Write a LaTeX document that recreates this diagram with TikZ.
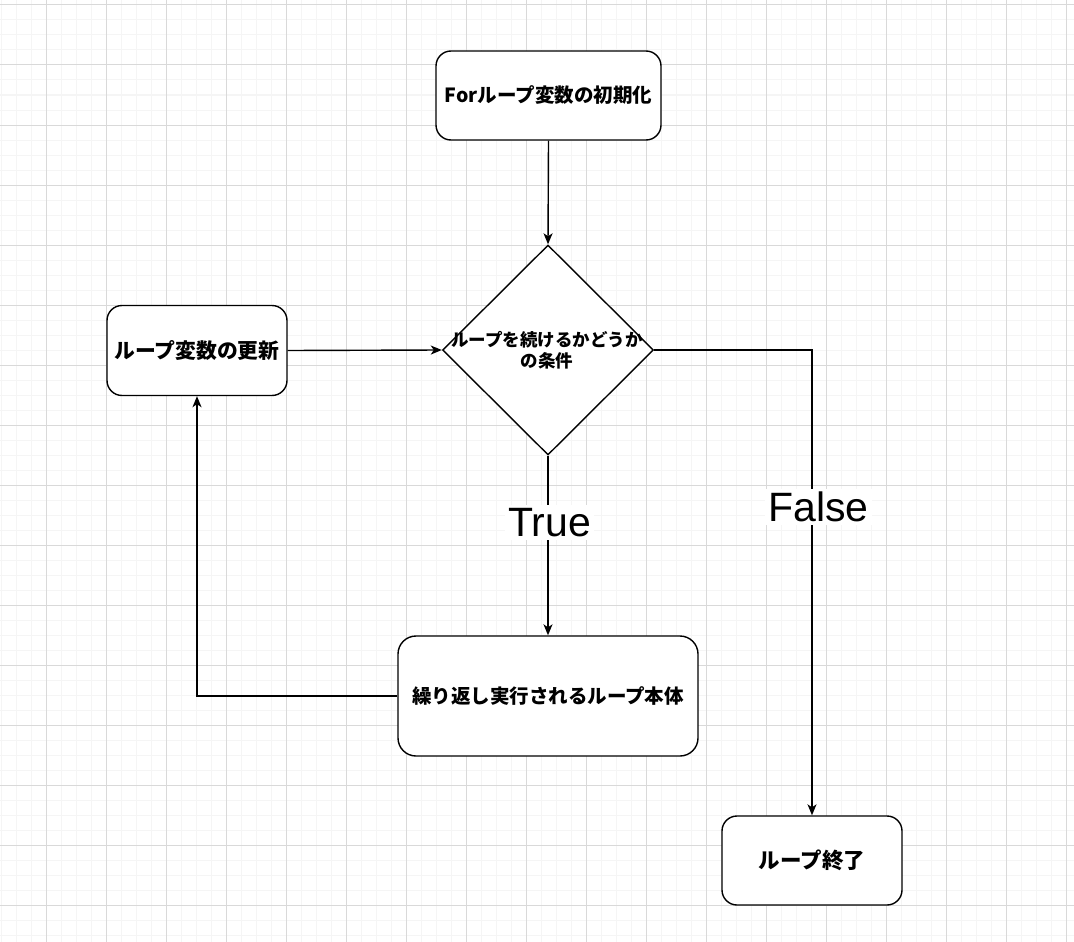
\documentclass[tikz,border=0pt]{standalone}
\usepackage{fontspec}
\newfontfamily\jp{Noto Sans CJK JP}
\newfontfamily\lab{Liberation Sans}
\usetikzlibrary{arrows.meta,shapes.geometric}
\definecolor{minorgrid}{HTML}{F5F5F5}
\definecolor{majorgrid}{HTML}{D9D9D9}
\tikzset{
  box/.style={draw=black, line width=1.4pt, rounded corners=15pt, fill=white, inner sep=0pt, align=center},
  conn/.style={draw=black, line width=1.4pt, -{Stealth[length=11pt,width=9pt,inset=3pt]}},
  edgelabel/.style={font=\lab\fontsize{41}{45}\selectfont, fill=white, inner sep=3pt, anchor=base}
}
\begin{document}
\begin{tikzpicture}[x=1pt,y=-1pt]
\useasboundingbox (0,0) rectangle (1074,942);
\fill[white] (0,0) rectangle (1074,942);
% grid
\foreach \i in {0,...,72} { \draw[minorgrid, line width=1pt] ({1+15*\i},0) -- ({1+15*\i},942); }
\foreach \i in {0,...,63} { \draw[minorgrid, line width=1pt] (0,{5+15*\i}) -- (1074,{5+15*\i}); }
\foreach \i in {0,...,17} { \draw[majorgrid, line width=1pt] ({46+60*\i},0) -- ({46+60*\i},942); }
\foreach \i in {0,...,15} { \draw[majorgrid, line width=1pt] (0,{5+60*\i}) -- (1074,{5+60*\i}); }

% nodes
\node[box, minimum width=225pt, minimum height=89pt, font=\jp\bfseries\fontsize{19.5}{22}\selectfont] (init) at (548.5,95.5) {Forループ変数の初期化};
\node[draw=black, line width=1.4pt, diamond, fill=white, minimum width=211pt, minimum height=210pt, inner sep=0pt] (cond) at (548,350) {};
\node[align=center, font=\jp\bfseries\fontsize{17.5}{21.5}\selectfont] (condtext) at (547,350.5) {ループを続けるかどうか\\の条件};
\node[box, minimum width=180pt, minimum height=90pt, font=\jp\bfseries\fontsize{20.8}{24}\selectfont] (upd) at (197,350.5) {ループ変数の更新};
\node[box, minimum width=300pt, minimum height=120pt, rounded corners=18pt, font=\jp\bfseries\fontsize{19.5}{23}\selectfont] (body) at (548,696) {繰り返し実行されるループ本体};
\node[box, minimum width=180pt, minimum height=89pt, font=\jp\bfseries\fontsize{21.5}{25}\selectfont] (end) at (812,860.5) {ループ終了};

% connectors
\draw[conn] (init.south) -- (cond.north);
\draw[conn] (upd.east) -- (cond.west);
\draw[conn] (cond.south) -- (body.north);
\draw[conn] (body.west) -| (upd.south);
\draw[conn] (cond.east) -| (end.north);

% labels
\node[edgelabel] (truelab) at (549.5,536.7) {True};
\node[edgelabel] (falselab) at (818.5,521.7) {False};
\end{tikzpicture}
\end{document}
